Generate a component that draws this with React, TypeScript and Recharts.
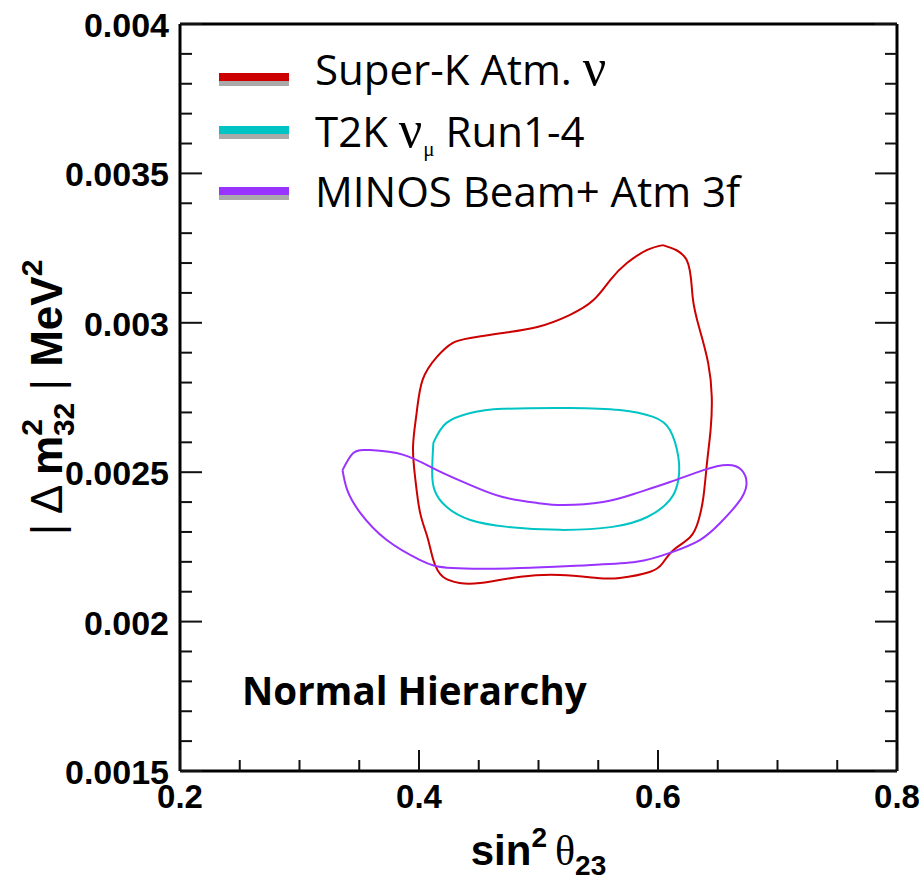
import { ScatterChart, Scatter, XAxis, YAxis, Legend } from 'recharts';

// contour points, [sin^2 theta23, |dm2_32|]
const superK: [number, number][] = [
  [0.604, 0.00326], [0.624, 0.00321], [0.629, 0.003086], [0.635, 0.002976], [0.642, 0.002865],
  [0.645, 0.002752], [0.644, 0.002641], [0.641, 0.002531], [0.638, 0.002417], [0.634, 0.00234],
  [0.627, 0.002283], [0.613, 0.00224], [0.604, 0.002196], [0.593, 0.002166], [0.568, 0.002146],
  [0.549, 0.002146], [0.518, 0.002156], [0.485, 0.00215], [0.451, 0.002129], [0.434, 0.002129],
  [0.42, 0.00215], [0.412, 0.002206], [0.407, 0.002283], [0.401, 0.002363], [0.397, 0.002474],
  [0.395, 0.002584], [0.398, 0.002698], [0.403, 0.002809], [0.415, 0.002886], [0.428, 0.002932],
  [0.443, 0.002949], [0.47, 0.002966], [0.499, 0.002986], [0.526, 0.003026], [0.546, 0.003076],
  [0.56, 0.003143], [0.574, 0.0032], [0.591, 0.003244], [0.604, 0.00326],
];

const t2k: [number, number][] = [
  [0.412, 0.002598], [0.423, 0.002665], [0.443, 0.002698], [0.47, 0.002712], [0.526, 0.002715],
  [0.568, 0.002708], [0.596, 0.002685], [0.61, 0.002641], [0.617, 0.002551], [0.617, 0.002474],
  [0.61, 0.002407], [0.591, 0.00235], [0.562, 0.002317], [0.518, 0.002307], [0.474, 0.002317],
  [0.443, 0.00234], [0.423, 0.002384], [0.413, 0.00244], [0.411, 0.002507], [0.412, 0.002598],
];

const minos: [number, number][] = [
  [0.336, 0.002507], [0.345, 0.002564], [0.359, 0.002574], [0.387, 0.002558], [0.415, 0.002507],
  [0.443, 0.002457], [0.47, 0.002417], [0.499, 0.002397], [0.521, 0.00239], [0.554, 0.0024],
  [0.582, 0.00243], [0.61, 0.002467], [0.638, 0.002507], [0.658, 0.002524], [0.67, 0.002507],
  [0.674, 0.002457], [0.667, 0.002397], [0.652, 0.00233], [0.635, 0.002273], [0.61, 0.00223],
  [0.582, 0.0022], [0.541, 0.002189], [0.485, 0.002179], [0.428, 0.002179], [0.401, 0.002206],
  [0.373, 0.002273], [0.351, 0.002363], [0.34, 0.00244], [0.336, 0.002507],
];

const xTicks = [0.2, 0.25, 0.3, 0.35, 0.4, 0.45, 0.5, 0.55, 0.6, 0.65, 0.7, 0.75, 0.8];
const xMajor = [0.2, 0.4, 0.6, 0.8];
const yTicks = [
  0.0015, 0.0016, 0.0017, 0.0018, 0.0019, 0.002, 0.0021, 0.0022, 0.0023, 0.0024, 0.0025, 0.0026, 0.0027,
  0.0028, 0.0029, 0.003, 0.0031, 0.0032, 0.0033, 0.0034, 0.0035, 0.0036, 0.0037, 0.0038, 0.0039, 0.004,
];
const yMajor = [0.0015, 0.002, 0.0025, 0.003, 0.0035, 0.004];

const series = [
  { name: 'Super-K Atm. ν', color: '#cc0000', points: superK },
  { name: 'T2K νμ Run1-4', color: '#00c4c4', points: t2k },
  { name: 'MINOS Beam+ Atm 3f', color: '#9933ff', points: minos },
];

// legend row layout (px): swatch top and text baseline per row
const legendSwatchTop = [73, 126, 187];
const legendBaseline = [85, 147, 207];

const SANS = '"Liberation Sans", Arial, Helvetica, sans-serif';
const SERIF = '"Liberation Serif", "DejaVu Serif", serif';
const LEGEND_FONT = '"Open Sans", "Noto Sans", sans-serif';

const isMajor = (v: number, majors: number[]) => majors.some((m) => Math.abs(v - m) < 1e-9);

const BottomTick = ({ x, y, payload }: any) => {
  const major = isMajor(payload.value, xMajor);
  return (
    <g>
      <line x1={x} y1={y} x2={x} y2={y - (major ? 21 : 11)} stroke="#111" strokeWidth={2} />
      {major && (
        <text x={x} y={y + 37} textAnchor="middle" fontFamily={SANS} fontWeight="bold" fontSize={33} fill="#000">
          {String(payload.value)}
        </text>
      )}
    </g>
  );
};

const TopTick = ({ x, y, payload }: any) => {
  const major = isMajor(payload.value, xMajor);
  return <line x1={x} y1={y} x2={x} y2={y + (major ? 21 : 11)} stroke="#111" strokeWidth={2} />;
};

const LeftTick = ({ x, y, payload }: any) => {
  const major = isMajor(payload.value, yMajor);
  return (
    <g>
      <line x1={x} y1={y} x2={x + (major ? 22 : 12)} y2={y} stroke="#111" strokeWidth={2} />
      {major && (
        <text x={x - 11} y={y + 13} textAnchor="end" fontFamily={SANS} fontWeight="bold" fontSize={34} fill="#000">
          {String(payload.value)}
        </text>
      )}
    </g>
  );
};

const RightTick = ({ x, y, payload }: any) => {
  const major = isMajor(payload.value, yMajor);
  return <line x1={x} y1={y} x2={x - (major ? 22 : 12)} y2={y} stroke="#111" strokeWidth={2} />;
};

const XTitle = ({ viewBox }: any) => {
  const cx = viewBox.x + viewBox.width / 2;
  const y = viewBox.y + 94;
  return (
    <text x={cx} y={y} textAnchor="middle" fontFamily={SANS} fontSize={42} fill="#000">
      <tspan fontWeight="bold">sin</tspan>
      <tspan fontWeight="bold" fontSize={28} dy={-18}>2</tspan>
      <tspan fontFamily={SERIF} fontSize={42} dx={8} dy={18}>θ</tspan>
      <tspan fontWeight="bold" fontSize={28} dy={10}>23</tspan>
    </text>
  );
};

const YTitle = ({ viewBox }: any) => {
  const cx = viewBox.x + viewBox.width - 118;
  const cy = viewBox.y + viewBox.height / 2;
  return (
    <text
      x={cx}
      y={cy}
      transform={`rotate(-90 ${cx} ${cy})`}
      textAnchor="middle"
      fontFamily={SANS}
      fontSize={44}
      fill="#000"
    >
      <tspan>| Δ </tspan>
      <tspan fontWeight="bold">m</tspan>
      <tspan fontWeight="bold" fontSize={30} dy={-20}>2</tspan>
      <tspan fontWeight="bold" fontSize={30} dx={-17} dy={32}>32</tspan>
      <tspan dy={-12}> | </tspan>
      <tspan fontWeight="bold">MeV</tspan>
      <tspan fontWeight="bold" fontSize={30} dy={-20}>2</tspan>
    </text>
  );
};

const legendName = (name: string) =>
  name.split(/(ν|μ)/).filter(Boolean).map((part, i) => {
    if (part === 'ν') return <tspan key={i} fontFamily={SERIF} fontSize={52}>ν</tspan>;
    if (part === 'μ') return <tspan key={i} fontFamily={SERIF} fontSize={21} dx={1} dy={9}>μ</tspan>;
    if (name.includes('μ') && i > 0 && part.startsWith(' ')) return <tspan key={i} dy={-9}>{part}</tspan>;
    return <tspan key={i}>{part}</tspan>;
  });

const renderLegend = ({ payload }: any) => {
  const order = series.map((s) => s.name);
  const items = [...(payload || [])].sort((a: any, b: any) => order.indexOf(a.value) - order.indexOf(b.value));
  return (
    <svg width={919} height={230}>
      {items.map((entry: any, i: number) => (
        <g key={entry.value}>
          <rect x={219} y={legendSwatchTop[i] + 8} width={70} height={5} fill="#aaaaaa" />
          <rect x={219} y={legendSwatchTop[i]} width={70} height={8} fill={entry.color} />
          <text x={315} y={legendBaseline[i]} fontFamily={LEGEND_FONT} fontSize={42} fill="#000">
            {legendName(entry.value)}
          </text>
        </g>
      ))}
    </svg>
  );
};

export default function App() {
  return (
    <div style={{ position: 'absolute', left: 0, top: 0, width: 919, height: 881, background: '#fff' }}>
      <ScatterChart width={919} height={881} margin={{ top: 23, right: 21, bottom: 109, left: 179 }}>
        <XAxis
          xAxisId="b"
          dataKey="x"
          type="number"
          domain={[0.2, 0.8]}
          allowDataOverflow
          ticks={xTicks}
          interval={0}
          height={1}
          tickSize={0}
          tickMargin={0}
          tickLine={false}
          axisLine={{ stroke: '#000', strokeWidth: 3 }}
          tick={BottomTick}
          label={{ content: (p: any) => <XTitle viewBox={p.viewBox} /> }}
        />
        <XAxis
          xAxisId="t"
          orientation="top"
          type="number"
          domain={[0.2, 0.8]}
          allowDataOverflow
          ticks={xTicks}
          interval={0}
          height={1}
          tickSize={0}
          tickMargin={0}
          tickLine={false}
          axisLine={{ stroke: '#000', strokeWidth: 3 }}
          tick={TopTick}
        />
        <YAxis
          yAxisId="l"
          dataKey="y"
          type="number"
          domain={[0.0015, 0.004]}
          allowDataOverflow
          ticks={yTicks}
          interval={0}
          width={1}
          tickSize={0}
          tickMargin={0}
          tickLine={false}
          axisLine={{ stroke: '#000', strokeWidth: 3 }}
          tick={LeftTick}
          label={{ content: (p: any) => <YTitle viewBox={p.viewBox} /> }}
        />
        <YAxis
          yAxisId="r"
          orientation="right"
          type="number"
          domain={[0.0015, 0.004]}
          allowDataOverflow
          ticks={yTicks}
          interval={0}
          width={1}
          tickSize={0}
          tickMargin={0}
          tickLine={false}
          axisLine={{ stroke: '#000', strokeWidth: 3 }}
          tick={RightTick}
        />
        {series.map((s) => (
          <Scatter
            key={s.name}
            name={s.name}
            xAxisId="b"
            yAxisId="l"
            data={s.points.map(([x, y]) => ({ x, y }))}
            fill={s.color}
            line={{ stroke: s.color, strokeWidth: 2 }}
            lineJointType="natural"
            shape={() => <g />}
            isAnimationActive={false}
          />
        ))}
        <Legend
          content={renderLegend}
          layout="horizontal"
          verticalAlign="middle"
          align="center"
          wrapperStyle={{ left: 0, top: 0, width: 919, height: 230 }}
        />
      </ScatterChart>
      <svg
        width={919}
        height={881}
        style={{ position: 'absolute', left: 0, top: 0, pointerEvents: 'none' }}
      >
        <text x={242} y={705} fontFamily={LEGEND_FONT} fontWeight="bold" fontSize={38.5} fill="#000">
          Normal Hierarchy
        </text>
      </svg>
    </div>
  );
}
